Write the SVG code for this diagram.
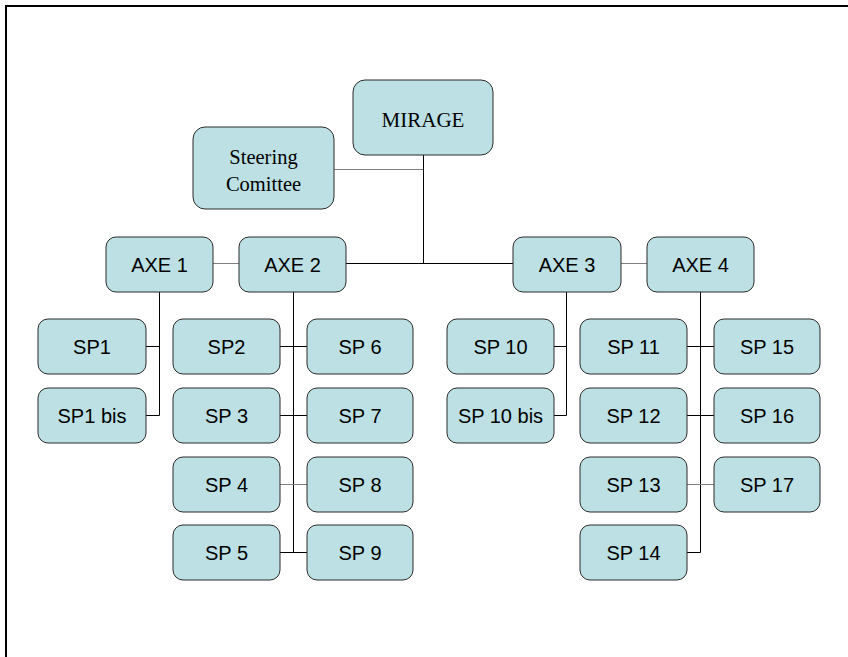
<svg xmlns="http://www.w3.org/2000/svg" width="848" height="657" viewBox="0 0 848 657">
<style>
.n rect{fill:#BCE0E3;stroke:#2b2b2b;stroke-width:1}
.n text{font-family:"Liberation Sans",Arial,sans-serif;font-size:20px;text-anchor:middle;fill:#000}
.n text.s{font-family:"Liberation Serif","Times New Roman",serif;font-size:20.5px}
.c path{fill:none;stroke:#000;stroke-width:1}
.c path.g{stroke:#808080}
</style>
<rect width="848" height="657" fill="#fff"/>
<path d="M6,657 V6 H848" fill="none" stroke="#000" stroke-width="2"/>
<g class="c">
<path class="g" d="M334,169.5 H423.5"/>
<path d="M423.5,155 V263.5 M346,263.5 H513"/>
<path class="g" d="M213,263.5 H239 M621,263.5 H647"/>
<path d="M159.5,292 V415.5 M146,346.5 H159.5 M146,415.5 H159.5"/>
<path d="M293.5,292 V552.5 M280,346.5 H307 M280,415.5 H307 M280,552.5 H307"/>
<path class="g" d="M280,484.5 H307"/>
<path d="M566.5,292 V415.5 M554,346.5 H566.5 M554,415.5 H566.5"/>
<path d="M700.5,292 V552.5 M687,346.5 H714 M687,415.5 H714 M687,552.5 H700.5"/>
<path class="g" d="M687,484.5 H714"/>
</g>
<g class="n" id="mirage"><rect x="353" y="80" width="140" height="75" rx="12"/><text class="s" x="423" y="126.5" style="font-size:21px">MIRAGE</text></g>
<g class="n" id="steering"><rect x="193" y="127" width="141" height="82" rx="12"/><text class="s" x="263.5" y="164">Steering</text><text class="s" x="263.5" y="190.5">Comittee</text></g>
<g class="n" id="axe1"><rect x="106" y="237" width="107" height="55" rx="10"/><text x="159.5" y="271.5">AXE 1</text></g>
<g class="n" id="axe2"><rect x="239" y="237" width="107" height="55" rx="10"/><text x="292.5" y="271.5">AXE 2</text></g>
<g class="n" id="axe3"><rect x="513" y="237" width="108" height="55" rx="10"/><text x="567" y="271.5">AXE 3</text></g>
<g class="n" id="axe4"><rect x="647" y="237" width="107" height="55" rx="10"/><text x="700.5" y="271.5">AXE 4</text></g>
<g class="n" id="sp1"><rect x="38" y="319" width="108" height="55" rx="10"/><text x="92" y="354">SP1</text></g>
<g class="n" id="sp1bis"><rect x="38" y="388" width="108" height="55" rx="10"/><text x="92" y="423">SP1 bis</text></g>
<g class="n" id="sp2"><rect x="173" y="319" width="107" height="55" rx="10"/><text x="226.5" y="354">SP2</text></g>
<g class="n" id="sp3"><rect x="173" y="388" width="107" height="55" rx="10"/><text x="226.5" y="423">SP 3</text></g>
<g class="n" id="sp4"><rect x="173" y="457" width="107" height="55" rx="10"/><text x="226.5" y="492">SP 4</text></g>
<g class="n" id="sp5"><rect x="173" y="525" width="107" height="55" rx="10"/><text x="226.5" y="560">SP 5</text></g>
<g class="n" id="sp6"><rect x="307" y="319" width="106" height="55" rx="10"/><text x="360" y="354">SP 6</text></g>
<g class="n" id="sp7"><rect x="307" y="388" width="106" height="55" rx="10"/><text x="360" y="423">SP 7</text></g>
<g class="n" id="sp8"><rect x="307" y="457" width="106" height="55" rx="10"/><text x="360" y="492">SP 8</text></g>
<g class="n" id="sp9"><rect x="307" y="525" width="106" height="55" rx="10"/><text x="360" y="560">SP 9</text></g>
<g class="n" id="sp10"><rect x="447" y="319" width="107" height="55" rx="10"/><text x="500.5" y="354">SP 10</text></g>
<g class="n" id="sp10bis"><rect x="447" y="388" width="107" height="55" rx="10"/><text x="500.5" y="423">SP 10 bis</text></g>
<g class="n" id="sp11"><rect x="580" y="319" width="107" height="55" rx="10"/><text x="633.5" y="354">SP 11</text></g>
<g class="n" id="sp12"><rect x="580" y="388" width="107" height="55" rx="10"/><text x="633.5" y="423">SP 12</text></g>
<g class="n" id="sp13"><rect x="580" y="457" width="107" height="55" rx="10"/><text x="633.5" y="492">SP 13</text></g>
<g class="n" id="sp14"><rect x="580" y="525" width="107" height="55" rx="10"/><text x="633.5" y="560">SP 14</text></g>
<g class="n" id="sp15"><rect x="714" y="319" width="106" height="55" rx="10"/><text x="767" y="354">SP 15</text></g>
<g class="n" id="sp16"><rect x="714" y="388" width="106" height="55" rx="10"/><text x="767" y="423">SP 16</text></g>
<g class="n" id="sp17"><rect x="714" y="457" width="106" height="55" rx="10"/><text x="767" y="492">SP 17</text></g>
</svg>
